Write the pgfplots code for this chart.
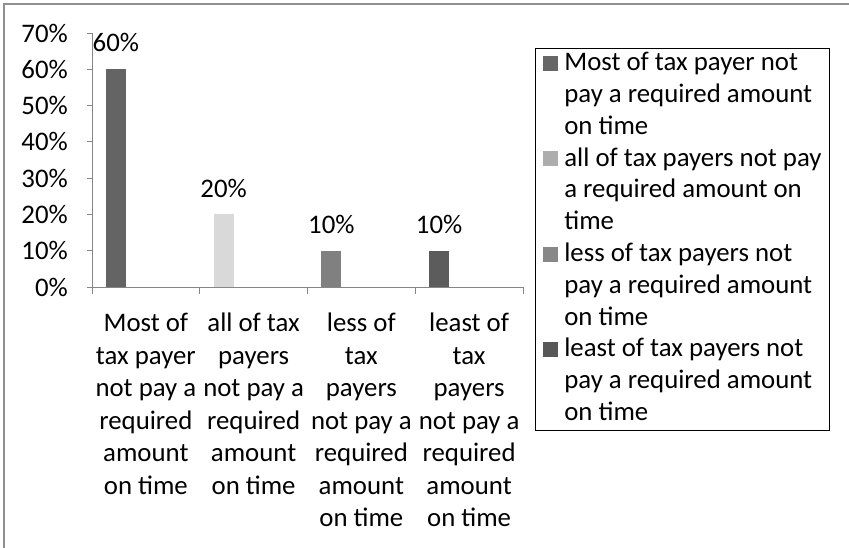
\documentclass[border=0pt]{standalone}
\usepackage{fontspec}
\setmainfont{Carlito}
\usepackage{pgfplots}
\pgfplotsset{compat=1.18}
\definecolor{barA}{HTML}{646464}
\definecolor{barB}{HTML}{D9D9D9}
\definecolor{barC}{HTML}{808080}
\definecolor{barD}{HTML}{5C5C5C}
\definecolor{legA}{HTML}{666666}
\definecolor{legB}{HTML}{ADADAD}
\definecolor{legC}{HTML}{888888}
\definecolor{legD}{HTML}{585858}
\definecolor{axgray}{HTML}{868686}
\definecolor{framegray}{HTML}{8F8F8F}
\newcommand{\bigfont}{\fontsize{26.8}{32.5}\selectfont}
\newcommand{\legfont}{\fontsize{26.8}{31.8}\selectfont}
\newcommand{\threelines}[3]{\vtop{\hbox{\strut #1}\hbox{\strut #2}\hbox{\strut #3}}}
\begin{document}
\begin{tikzpicture}
\path[use as bounding box] (0pt,0pt) rectangle (849pt,-548pt);
\draw[framegray, line width=1.8pt] (4pt,-560pt) -- (4pt,-4pt) -- (860pt,-4pt);
\begin{axis}[
  at={(92pt,-287pt)}, anchor=south west,
  scale only axis, width=431pt, height=254pt,
  xmin=-0.5, xmax=3.5, ymin=0, ymax=70,
  axis x line*=bottom, axis y line*=left,
  axis line style={axgray, line width=1pt},
  xtick={0,1,2,3},
  minor xtick={-0.5,0.5,1.5,2.5,3.5},
  major x tick style={draw=none},
  minor x tick style={axgray, line width=1pt},
  minor tick length=7pt,
  ytick={0,10,20,30,40,50,60,70},
  major y tick style={axgray, line width=1pt},
  major tick length=5pt,
  tick align=outside,
  /pgf/number format/assume math mode=true,
  yticklabel={\pgfmathprintnumber{\tick}\%},
  yticklabel style={font=\bigfont, anchor=east, inner sep=0pt, xshift=-19pt},
  xticklabels={
    {\strut Most of\\tax payer\\not pay a\\required\\amount\\on time\strut},
    {\strut all of tax\\payers\\not pay a\\required\\amount\\on time\strut},
    {\strut less of\\tax\\payers\\not pay a\\required\\amount\\on time\strut},
    {\strut least of\\tax\\payers\\not pay a\\required\\amount\\on time\strut}},
  xticklabel style={font=\bigfont, align=center, anchor=north, inner sep=0pt, yshift=-17pt},
  ybar, bar width=20pt, bar shift=-30pt,
  nodes near coords={\pgfmathprintnumber{\pgfplotspointmeta}\%},
  every node near coord/.append style={font=\bigfont, text=black, anchor=south, inner sep=0pt, yshift=17pt},
  legend style={at={(rel axis cs:1.0278,0.9409)}, anchor=north west,
    draw=black, line width=0.9pt, inner xsep=8pt, inner ysep=0pt,
    row sep=0pt, column sep=6pt,
    font=\legfont,
    cells={anchor=base west},
    nodes={inner sep=0pt, text height=22.26pt, text depth=73.14pt}},
  clip=false,
]
\addplot[fill=barA, draw=none, forget plot] coordinates {(0,60)};
\addplot[fill=barB, draw=none, forget plot] coordinates {(1,20)};
\addplot[fill=barC, draw=none, forget plot] coordinates {(2,10)};
\addplot[fill=barD, draw=none, forget plot] coordinates {(3,10)};
\addlegendimage{legend image code/.code={\fill[legA] (0pt,0.5pt) rectangle (14pt,14.5pt);}}
\addlegendentry{\threelines{Most of tax payer not}{pay a required amount}{on time}}
\addlegendimage{legend image code/.code={\fill[legB] (0pt,0.5pt) rectangle (14pt,14.5pt);}}
\addlegendentry{\threelines{all of tax payers not pay}{a required amount on}{time}}
\addlegendimage{legend image code/.code={\fill[legC] (0pt,0.5pt) rectangle (14pt,14.5pt);}}
\addlegendentry{\threelines{less of tax payers not}{pay a required amount}{on time}}
\addlegendimage{legend image code/.code={\fill[legD] (0pt,0.5pt) rectangle (14pt,14.5pt);}}
\addlegendentry{\threelines{least of tax payers not}{pay a required amount}{on time}}
\end{axis}
\end{tikzpicture}
\end{document}
